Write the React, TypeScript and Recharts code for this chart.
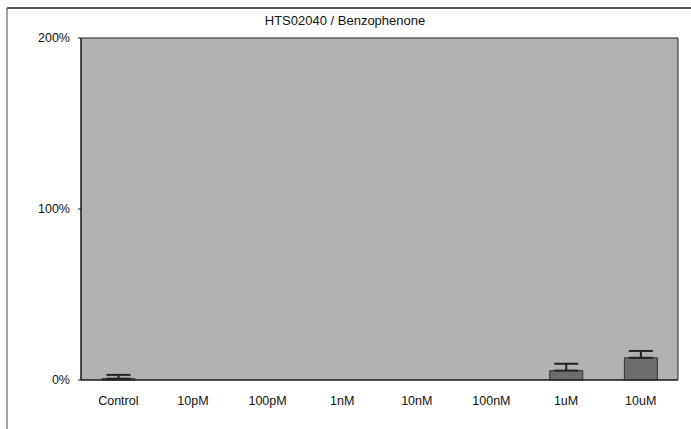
import React from "react";
import { BarChart, Bar, XAxis, YAxis, ErrorBar, ReferenceArea } from "recharts";

const categories = ["Control", "10pM", "100pM", "1nM", "10nM", "100nM", "1uM", "10uM"];
const values = [0.8, 0, 0, 0, 0, 0, 5.5, 13];
const errors = [2.2, 0, 0, 0, 0, 0, 4, 4];
const yTicks = [0, 100, 200];

const data = categories.map((c, i) => ({
  name: c,
  value: values[i],
  err: [0, errors[i]],
}));

const font = "'Liberation Sans', Arial, sans-serif";

export default function App() {
  return (
    <div style={{ position: "absolute", left: 0, top: 0, width: 691, height: 429, background: "#fff" }}>
      <svg width={691} height={429} style={{ position: "absolute", left: 0, top: 0 }}>
        <line x1={7} y1={8} x2={691} y2={8} stroke="#222" strokeWidth={1.5} />
        <line x1={7} y1={8} x2={7} y2={429} stroke="#444" strokeWidth={1} />
        <text x={345} y={25} textAnchor="middle" fontFamily={font} fontSize={13} fill="#111">
          HTS02040 / Benzophenone
        </text>
      </svg>
      <div style={{ position: "absolute", left: 0, top: 0 }}>
        <BarChart width={691} height={429} data={data} margin={{ top: 38, right: 13, bottom: 19, left: 0 }}>
          <ReferenceArea y1={0} y2={200} fill="#b2b2b2" fillOpacity={1} stroke="#222" strokeWidth={1} />
          <XAxis
            dataKey="name"
            height={30}
            tickLine={false}
            axisLine={{ stroke: "#111" }}
            tickMargin={10}
            tick={{ fontFamily: font, fontSize: 12.5, fill: "#111" }}
            interval={0}
          />
          <YAxis
            domain={[0, 200]}
            ticks={yTicks}
            width={81}
            tickFormatter={(v: number) => `${v}%`}
            axisLine={{ stroke: "#111" }}
            tickLine={{ stroke: "#111" }}
            tickSize={3}
            tickMargin={8}
            tick={{ fontFamily: font, fontSize: 12.5, fill: "#111" }}
          />
          <Bar dataKey="value" fill="#6c6c6c" stroke="#333" strokeWidth={1} barSize={33} isAnimationActive={false}>
            <ErrorBar dataKey="err" width={12} stroke="#222" strokeWidth={2} direction="y" />
          </Bar>
        </BarChart>
      </div>
    </div>
  );
}
